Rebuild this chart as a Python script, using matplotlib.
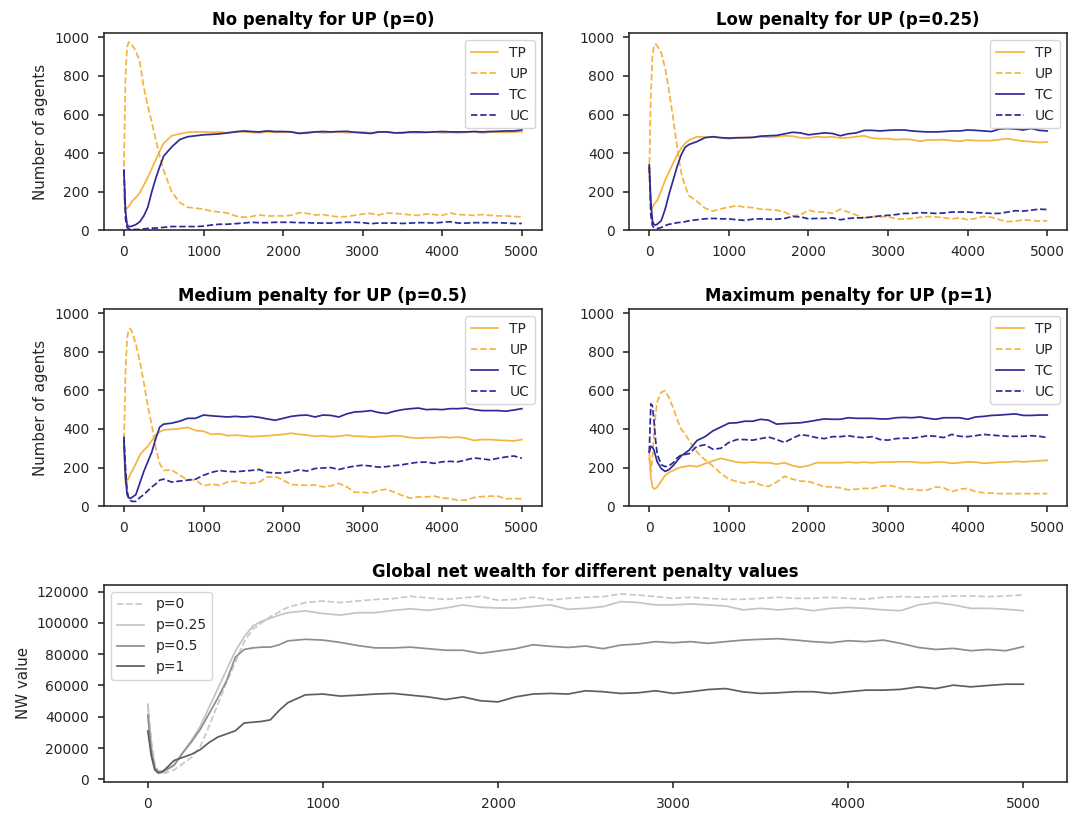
import numpy as np
import matplotlib
matplotlib.use("Agg")
import matplotlib.pyplot as plt

# time steps at which the agent counts were sampled
steps = [0, 20, 40, 60, 80, 100, 150, 200, 250, 300, 350, 400, 450, 500] + list(range(600, 5001, 100))

# p = 0
tp_0 = [180, 110, 115, 125, 135, 150, 170, 195, 235, 275, 320, 365, 410, 452,
        490, 500, 508, 510, 510, 508, 510, 505, 512, 510, 508, 505, 510, 508,
        508, 510, 505, 508, 510, 505, 508, 510, 505, 508, 510, 505, 508, 510,
        505, 508, 506, 505, 508, 510, 505, 508, 505, 508, 510, 505, 508, 510,
        508, 510, 510]
up_0 = [330, 800, 950, 975, 970, 960, 930, 870, 740, 645, 560, 470, 385, 310,
        200, 145, 120, 115, 110, 100, 95, 90, 75, 68, 72, 80, 75, 75, 75, 78,
        92, 88, 80, 82, 75, 70, 72, 78, 85, 88, 80, 90, 88, 85, 80, 78, 85, 82,
        78, 90, 82, 80, 78, 82, 78, 75, 75, 72, 70]
tc_0 = [312, 100, 30, 20, 20, 22, 30, 45, 75, 120, 200, 270, 330, 385,
        432, 470, 485, 490, 495, 497, 500, 505, 510, 515, 512, 510, 515, 512,
        512, 510, 502, 505, 510, 512, 510, 512, 513, 508, 505, 502, 510, 510,
        505, 505, 510, 510, 508, 510, 512, 510, 510, 510, 512, 510, 512, 513,
        515, 515, 520]
uc_0 = [312, 60, 15, 8, 5, 5, 5, 5, 8, 10, 12, 12, 14, 16,
        20, 20, 20, 20, 22, 28, 32, 32, 35, 38, 42, 40, 40, 42, 42, 42, 40, 40,
        38, 38, 38, 40, 42, 42, 40, 35, 38, 38, 38, 36, 38, 40, 40, 38, 42, 45,
        38, 38, 40, 40, 40, 40, 38, 36, 36]

# p = 0.25
tp_25 = [330, 105, 120, 135, 145, 156, 205, 260, 305, 347, 390, 425, 450, 468,
         485, 483, 485, 480, 475, 478, 482, 480, 485, 482, 485, 490, 488, 480,
         478, 485, 482, 485, 478, 480, 485, 490, 478, 475, 475, 470, 472, 470,
         462, 468, 468, 470, 465, 462, 468, 465, 465, 465, 470, 475, 468, 462,
         460, 455, 458]
up_25 = [300, 700, 900, 960, 965, 955, 920, 840, 720, 580, 430, 300, 230, 180,
         150, 115, 100, 112, 120, 128, 120, 118, 110, 108, 105, 95, 75, 80, 105,
         95, 95, 88, 110, 95, 80, 65, 72, 70, 72, 60, 58, 62, 68, 72, 70, 65,
         60, 65, 55, 62, 72, 68, 55, 45, 48, 55, 52, 48, 50]
tc_25 = [340, 150, 50, 30, 28, 32, 50, 110, 190, 260, 330, 390, 430, 445,
         460, 480, 485, 480, 478, 480, 480, 482, 488, 490, 492, 500, 508, 505,
         495, 500, 505, 502, 490, 500, 505, 518, 518, 515, 518, 520, 520, 515,
         512, 510, 510, 512, 515, 515, 520, 518, 515, 512, 525, 528, 525, 520,
         528, 518, 515]
uc_25 = [330, 80, 25, 15, 12, 10, 15, 25, 32, 35, 40, 42, 45, 50,
         55, 60, 62, 60, 60, 55, 52, 58, 60, 58, 58, 62, 72, 70, 60, 62, 62, 65,
         55, 62, 65, 65, 70, 75, 78, 82, 88, 88, 92, 90, 88, 90, 95, 95, 95, 92,
         90, 88, 88, 95, 102, 100, 105, 110, 108]

# p = 0.5
tp_50 = [300, 120, 130, 145, 165, 180, 220, 265, 290, 310, 340, 370, 385, 395,
         398, 402, 408, 392, 388, 372, 375, 365, 368, 365, 360, 362, 365, 368,
         372, 378, 372, 368, 362, 365, 360, 362, 368, 362, 362, 358, 360, 362,
         365, 362, 355, 352, 355, 355, 358, 355, 358, 352, 340, 345, 345, 342,
         340, 338, 345]
up_50 = [300, 700, 870, 915, 920, 905, 840, 750, 640, 520, 420, 300, 220, 185,
         188, 160, 138, 135, 105, 115, 108, 125, 130, 120, 118, 125, 150, 155,
         135, 112, 110, 108, 110, 100, 105, 118, 100, 72, 72, 68, 82, 88, 72,
         55, 42, 48, 48, 52, 42, 40, 30, 32, 45, 50, 52, 52, 38, 40, 38]
tc_50 = [340, 150, 60, 45, 40, 45, 60, 120, 180, 230, 280, 350, 410, 425,
         430, 440, 455, 455, 472, 468, 465, 462, 465, 462, 465, 460, 452, 445,
         455, 465, 470, 472, 462, 472, 470, 462, 478, 488, 490, 495, 485, 480,
         492, 500, 505, 508, 500, 502, 500, 505, 505, 508, 500, 495, 495, 495,
         492, 498, 505]
uc_50 = [360, 200, 80, 40, 30, 25, 25, 45, 60, 80, 100, 115, 135, 140,
         125, 130, 135, 140, 160, 175, 185, 180, 178, 182, 185, 190, 175, 172,
         172, 178, 188, 182, 195, 198, 200, 190, 200, 208, 212, 208, 202, 205,
         210, 215, 222, 228, 228, 222, 230, 232, 230, 240, 250, 245, 240, 248,
         255, 260, 248]

# p = 1
tp_100 = [280, 150, 100, 90, 92, 100, 130, 160, 175, 185, 195, 202, 205, 210,
          205, 220, 235, 248, 238, 228, 225, 228, 225, 225, 218, 225, 210, 202,
          210, 225, 225, 225, 225, 228, 225, 228, 225, 228, 228, 230, 230, 230,
          225, 225, 228, 228, 222, 225, 230, 228, 222, 225, 228, 228, 232, 230,
          232, 235, 238]
up_100 = [250, 180, 250, 380, 480, 540, 590, 598, 560, 510, 450, 400, 375, 340,
          280, 240, 208, 170, 140, 128, 118, 128, 110, 102, 125, 155, 140, 130,
          128, 115, 100, 100, 95, 85, 88, 92, 92, 102, 108, 100, 88, 88, 82, 85,
          100, 95, 75, 88, 92, 75, 70, 68, 65, 65, 65, 65, 65, 65, 65]
tc_100 = [280, 310, 305, 290, 260, 230, 195, 180, 190, 210, 235, 260, 275, 290,
          340, 360, 390, 410, 430, 432, 440, 440, 450, 445, 425, 428, 430, 432,
          438, 445, 452, 450, 450, 458, 455, 455, 455, 452, 452, 458, 460, 458,
          462, 455, 450, 458, 458, 458, 450, 462, 465, 470, 472, 475, 478, 470,
          470, 472, 472]
uc_100 = [280, 530, 520, 440, 340, 270, 215, 205, 210, 225, 250, 265, 268, 272,
          310, 318, 295, 300, 330, 345, 345, 342, 350, 358, 345, 330, 352, 370,
          365, 355, 350, 360, 360, 365, 358, 355, 360, 345, 342, 350, 352, 352,
          358, 365, 362, 355, 372, 362, 360, 365, 372, 368, 365, 362, 362, 362,
          365, 362, 355]

panels = [
    ("No penalty for UP (p=0)", tp_0, up_0, tc_0, uc_0),
    ("Low penalty for UP (p=0.25)", tp_25, up_25, tc_25, uc_25),
    ("Medium penalty for UP (p=0.5)", tp_50, up_50, tc_50, uc_50),
    ("Maximum penalty for UP (p=1)", tp_100, up_100, tc_100, uc_100),
]

# global net wealth, sampled on its own grid
nw_steps = [0, 20, 40, 60, 80, 100] + list(range(150, 801, 50)) + list(range(900, 5001, 100))
nw_0 = [48000, 25000, 10000, 5000, 4000, 4000, 6000, 10000, 14000, 21000,
        34000, 48000, 62000, 75000, 88000, 96000, 100000, 104000, 107000,
        110000, 113000, 114000, 113000, 114000, 115000, 115500, 117000,
        116000, 115000, 116000, 117000, 114500, 115000, 116500, 114700,
        115700, 116400, 116800, 118500, 117800, 116800, 115700, 116400,
        115700, 115100, 115100, 115700, 116400, 115700, 115700, 116400,
        115700, 115100, 116400, 116800, 116400, 116800, 117200, 117200,
        116800, 117200, 117900]
nw_25 = [48000, 22000, 8000, 5000, 4500, 5000, 9000, 17000, 25000, 34000,
         46000, 58000, 70000, 82000, 91000, 98000, 101000, 103000, 105000,
         106500, 107700, 106000, 105000, 106500, 106500, 108000, 109000,
         108000, 109500, 111500, 110000, 109500, 109500, 110500, 111500,
         108700, 109300, 110400, 113600, 113000, 111500, 111500, 112100,
         111500, 110800, 108300, 109300, 108300, 109300, 107800, 109300,
         109800, 109300, 108300, 107800, 111500, 113000, 111500, 109300,
         109300, 108700, 107800]
nw_50 = [41000, 18000, 7000, 5000, 5000, 6000, 9000, 17000, 24000, 32000,
         42000, 52000, 63000, 78000, 83000, 84000, 84500, 84500, 86000, 88500,
         89500, 89000, 87500, 85500, 84000, 84000, 84500, 83500, 82500, 82500,
         80500, 82000, 83500, 86000, 85000, 84300, 85200, 83500, 85800, 86500,
         88000, 87300, 88000, 86900, 88000, 89000, 89500, 89900, 89000, 88000,
         87300, 88600, 88000, 89000, 86900, 84300, 83000, 83700, 82200, 83000,
         82200, 84800]
nw_100 = [31000, 15000, 6000, 4000, 4500, 6500, 12000, 14000, 16000, 19000,
          23500, 27000, 29000, 31000, 36000, 36500, 37000, 38000, 44000, 49000,
          54000, 54500, 53200, 53800, 54500, 54900, 53800, 52700, 51000, 52700,
          50200, 49500, 52700, 54500, 54900, 54500, 56600, 56000, 54900, 55300,
          56600, 54900, 56000, 57400, 58000, 55900, 54900, 55300, 56000, 56000,
          54900, 56000, 57000, 57000, 57500, 59100, 58000, 60200, 59100, 60000,
          60800, 60800]
nw_series = [("p=0", nw_0, "#c8c8c8", "--"),
             ("p=0.25", nw_25, "#c4c4c4", "-"),
             ("p=0.5", nw_50, "#8e8e8e", "-"),
             ("p=1", nw_100, "#5e5e5e", "-")]

orange = "#f5b440"
navy = "#2e2b96"

plt.rcParams.update({
    "font.size": 10,
    "axes.edgecolor": "#262626",
    "axes.linewidth": 1.15,
    "text.color": "#262626",
    "axes.labelcolor": "#262626",
    "axes.labelsize": 10.8,
    "xtick.color": "#262626",
    "ytick.color": "#262626",
    "xtick.labelsize": 10,
    "ytick.labelsize": 10,
    "xtick.major.width": 1.15,
    "ytick.major.width": 1.15,
    "xtick.major.size": 4.4,
    "ytick.major.size": 4.4,
    "xtick.major.pad": 6.3,
    "ytick.major.pad": 6.3,
    "legend.fontsize": 10,
})

fig = plt.figure(figsize=(10.79, 8.15), dpi=100)
gs = fig.add_gridspec(3, 2, left=0.0964, right=0.989, top=0.959, bottom=0.0405,
                      wspace=0.2, hspace=0.4)

lw = 1.25
for i, (title, tp, up, tc, uc) in enumerate(panels):
    ax = fig.add_subplot(gs[i // 2, i % 2])
    ax.plot(steps, tp, color=orange, lw=lw, label="TP")
    ax.plot(steps, up, color=orange, lw=lw, ls="--", label="UP")
    ax.plot(steps, tc, color=navy, lw=lw, label="TC")
    ax.plot(steps, uc, color=navy, lw=lw, ls="--", label="UC")
    ax.set_ylim(0, 1020)
    ax.set_yticks([0, 200, 400, 600, 800, 1000])
    ax.set_xticks([0, 1000, 2000, 3000, 4000, 5000])
    ax.set_title(title, fontweight="bold", color="black", fontsize=11.9)
    if i % 2 == 0:
        ax.set_ylabel("Number of agents")
    ax.legend(loc="upper right")

ax = fig.add_subplot(gs[2, :])
for label, vals, col, ls in nw_series:
    ax.plot(nw_steps, vals, color=col, ls=ls, lw=lw, label=label)
ax.set_xticks([0, 1000, 2000, 3000, 4000, 5000])
ax.set_yticks(range(0, 120001, 20000))
ax.set_title("Global net wealth for different penalty values", fontweight="bold",
             color="black", fontsize=11.9)
ax.set_ylabel("NW value")
ax.legend(loc="upper left")

fig.savefig("out.png", dpi=100)
